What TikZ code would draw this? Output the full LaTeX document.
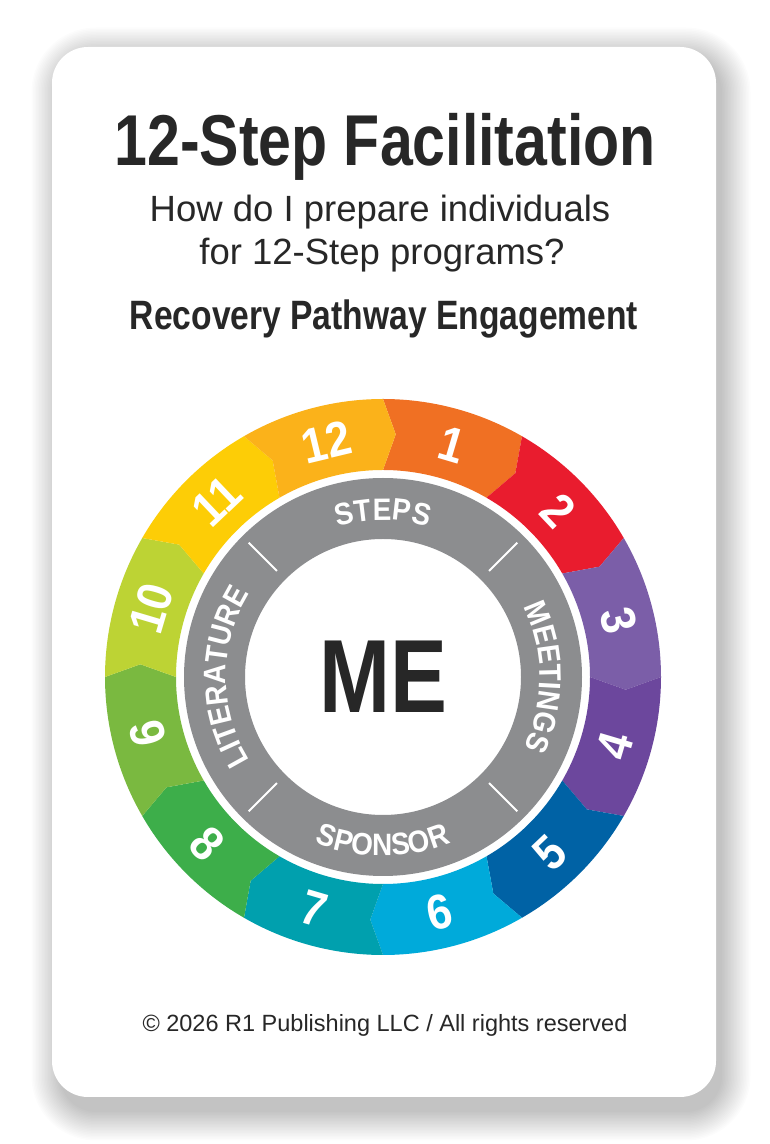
\documentclass[tikz,border=0pt]{standalone}
\usepackage{fontspec}
\setmainfont{Liberation Sans}
\newfontfamily\condfont[FakeStretch=0.82]{Liberation Sans}
\newfontfamily\ringfont[FakeStretch=0.9]{Liberation Sans}
\usetikzlibrary{decorations.text}
\definecolor{ink}      {HTML}{272727}
\definecolor{ringgrey} {HTML}{8C8D8F}
\definecolor{step1}    {HTML}{F07023}
\definecolor{step2}    {HTML}{E91C2E}
\definecolor{step3}    {HTML}{7B5EA8}
\definecolor{step4}    {HTML}{6C479D}
\definecolor{step5}    {HTML}{0062A5}
\definecolor{step6}    {HTML}{00AADA}
\definecolor{step7}    {HTML}{00A0AE}
\definecolor{step8}    {HTML}{3DAE4A}
\definecolor{step9}    {HTML}{7AB940}
\definecolor{step10}   {HTML}{BDD334}
\definecolor{step11}   {HTML}{FDCD06}
\definecolor{step12}   {HTML}{FBB21A}
\newcommand{\ringlbl}{\ringfont\bfseries\fontsize{31}{31}\selectfont}
\tikzset{
  headline/.style ={text=ink, inner sep=0pt, anchor=base,
                    font=\condfont\bfseries\fontsize{72}{72}\selectfont},
  subline/.style  ={text=ink, inner sep=0pt, anchor=base,
                    font=\fontsize{36.5}{36.5}\selectfont},
  pathline/.style ={text=ink, inner sep=0pt, anchor=base,
                    font=\condfont\bfseries\fontsize{41}{41}\selectfont},
  footline/.style ={text=ink, inner sep=0pt, anchor=base,
                    font=\fontsize{23.5}{23.5}\selectfont},
  centre/.style   ={text=ink, inner sep=0pt, anchor=base,
                    font=\condfont\bfseries\fontsize{104}{104}\selectfont},
  stepnum/.style  ={text=white, inner sep=0pt,
                    font=\ringfont\bfseries\fontsize{49}{49}\selectfont},
  ringtext/.style ={decorate, decoration={text along path, text align=center,
                    text color=white, text={|\ringlbl|#1}}},
  tick/.style     ={white, line width=2pt}
}
\begin{document}
\begin{tikzpicture}[x=1pt, y=1pt]
\useasboundingbox (0,0) rectangle (769,1144);
\fill[white] (0,0) rectangle (769,1144);

% card and its soft shadow
\foreach \i in {0,...,19}
  \fill[black, opacity=0.01, rounded corners=36+1.5*\i]
    (60-1.5*\i, 32-1.5*\i) rectangle (722+1.5*\i, 1088+1.5*\i);
\fill[white, rounded corners=36] (52,47) rectangle (716,1097);

\node[headline] (title) at (385,978) {12-Step Facilitation};
\node[subline]  (subA)  at (380,922) {How do I prepare individuals};
\node[subline]  (subB)  at (382,879) {for 12-Step programs?};
\node[pathline] (path)  at (384,814) {Recovery Pathway Engagement};
\node[footline] (foot)  at (385,112) {\textcopyright\ 2026 R1 Publishing LLC / All rights reserved};

\begin{scope}[shift={(383,467)}]
  % twelve arrow segments, clockwise from the top
  \foreach \c [count=\k from 0] in {step1,step2,step3,step4,step5,step6,
                                   step7,step8,step9,step10,step11,step12} {
    \pgfmathsetmacro\a{90-30*\k}
    \pgfmathsetmacro\b{\a-30}
    \fill[\c] (\a:278) arc[start angle=\a, end angle=\b, radius=278]
      -- (\b-3:243) -- (\b:207)
      arc[start angle=\b, end angle=\a, radius=207]
      -- (\a-3:243) -- cycle;
  }
  \foreach \n [count=\k from 0] in {1,...,12} {
    \pgfmathsetmacro\m{75-30*\k-1.5}
    \pgfmathsetmacro\r{sin(\m)>0 ? \m-90 : \m+90}
    \node[stepnum, rotate=\r] (num\n) at (\m:242) {\n};
  }

  \fill[ringgrey, even odd rule] (0,0) circle[radius=199] (0,0) circle[radius=138];
  \foreach \t in {45,135,225,315}
    \draw[tick] (\t:150) -- (\t:190);

  \path[ringtext=STEPS]      (150:157) arc[start angle=150, end angle=30, radius=157];
  \path[ringtext=MEETINGS]   (45:157) arc[start angle=45, end angle=-45, radius=157];
  \path[ringtext=LITERATURE] (225:157) arc[start angle=225, end angle=135, radius=157];
  \path[ringtext=SPONSOR]    (225:179) arc[start angle=225, end angle=315, radius=179];

  \node[centre] (me) at (0,-36) {ME};
\end{scope}
\end{tikzpicture}
\end{document}
